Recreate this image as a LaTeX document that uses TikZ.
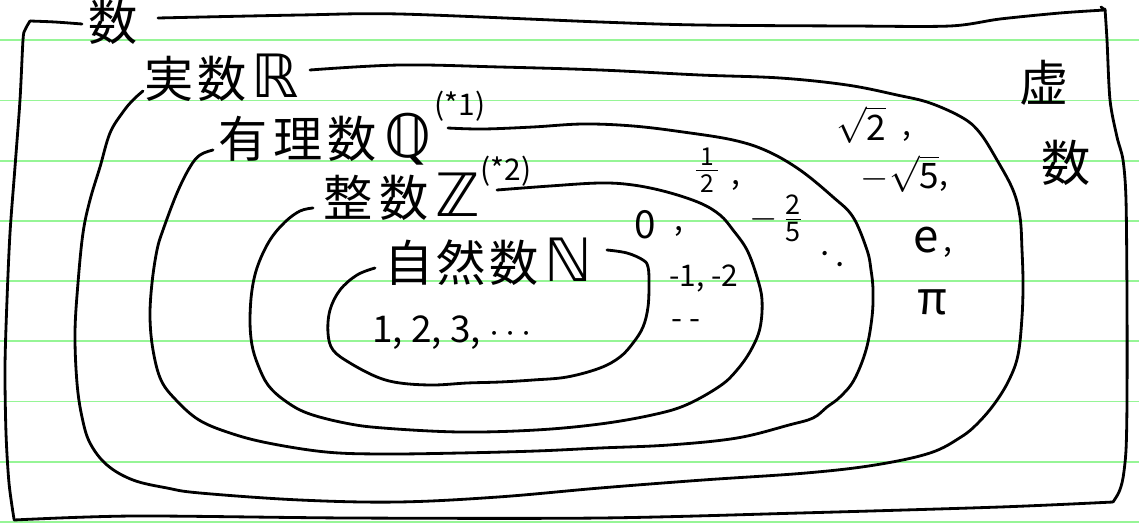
\documentclass[tikz,border=0pt]{standalone}
\usepackage{amsmath}
\usepackage{fontspec}
\setmainfont{Noto Sans CJK JP}
\newfontfamily\dv{DejaVu Sans}
\definecolor{rulegreen}{RGB}{150,245,150}
\newcommand{\bbl}[1]{{\dv\fontsize{34}{34}\selectfont #1}}
\begin{document}
\begin{tikzpicture}[x=0.02cm,y=-0.02cm,
  ink/.style={line width=1.6pt, line cap=round, line join=round},
  rulel/.style={draw=rulegreen, line width=1.1pt},
  biglbl/.style={font=\fontsize{28}{30}\selectfont, inner sep=0pt},
  midlbl/.style={font=\fontsize{21}{24}\selectfont, inner sep=0pt},
  smalllbl/.style={font=\fontsize{18}{20}\selectfont, inner sep=0pt},
  suplbl/.style={font=\fontsize{17}{19}\selectfont, inner sep=0pt}]
\useasboundingbox (0,0) rectangle (1139,524);
\fill[white] (0,0) rectangle (1139,524);
\foreach \k in {0,...,8} \draw[rulel] (0,{40.3+60.2*\k}) -- (1139,{40.3+60.2*\k});

% outer box (numbers)
\draw[ink] plot[smooth] coordinates {(82,24) (55,22) (30,21)};
\draw[ink] plot[smooth] coordinates {(30,21) (25,30) (23,40) (20,100) (15,167) (10,233) (7,300) (5,367) (6,433) (9,483) (14,519)};
\draw[ink] plot[smooth] coordinates {(14,520) (134,516) (350,518) (600,518) (800,513) (1000,507) (1113,502)};
\draw[ink] plot[smooth] coordinates {(1113,502) (1119,492) (1123,478) (1126,450) (1127,400) (1127,300) (1126,200) (1123,160) (1117,137) (1110,100) (1107,40) (1105,9)};
\draw[ink] (1105,10) -- (1101,7);
\draw[ink] plot[smooth] coordinates {(1105,10) (1060,13) (1000,19) (950,26) (850,26) (700,25) (600,22) (400,14) (300,15) (158,18)};

% real numbers
\draw[ink] plot[smooth, tension=0.6] coordinates {(143,91) (133,100) (123,112) (110,133) (100,167) (90,200) (83,233) (78,283) (75,333) (77,383) (82,417) (90,443) (107,465) (133,480) (167,488) (200,493) (300,500) (398,502) (498,497) (600,488) (703,480) (806,473) (875,465) (930,453) (961,437) (978,423) (995,403) (1009,380) (1018,355) (1022,317) (1023,283) (1022,250) (1020,217) (1013,190) (997,160) (980,133) (963,118) (930,103) (897,95) (847,85) (780,78) (700,75) (600,70) (500,67) (400,65) (310,70)};

% rational numbers
\draw[ink] plot[smooth, tension=0.6] coordinates {(213,150) (200,155) (190,167) (177,193) (163,230) (157,250) (152,283) (150,317) (153,350) (161,380) (176,400) (199,420) (230,433) (268,443) (326,452) (383,454) (460,453) (536,451) (600,448) (669,445) (737,438) (789,425) (813,418) (827,407) (840,397) (854,380) (866,350) (872,317) (873,290) (871,270) (867,250) (853,217) (833,197) (800,170) (767,151) (733,140) (683,132) (633,126) (583,124) (533,127) (483,129) (448,128)};

% integers
\draw[ink] plot[smooth, tension=0.6] coordinates {(313,208) (300,211) (285,222) (270,240) (258,265) (252,290) (250,320) (252,345) (258,365) (268,385) (284,400) (307,413) (345,423) (383,428) (460,432) (536,430) (600,424) (652,415) (686,405) (720,386) (737,370) (751,350) (760,328) (762,300) (757,277) (747,250) (733,230) (720,215) (700,203) (667,192) (633,185) (600,183) (550,186) (497,190)};

% natural numbers
\draw[ink] plot[smooth, tension=0.6] coordinates {(375,268) (357,275) (340,290) (330,310) (328,333) (333,350) (350,363) (377,377) (400,383) (433,385) (467,383) (500,382) (533,380) (567,377) (600,368) (620,357) (633,343) (643,327) (648,307) (649,283) (648,267) (643,260) (627,253) (607,250)};

% labels
\node[biglbl] (lsu) at (113,22) {数};
\node[biglbl] (lre) at (222,78) {実\hspace{2pt}数\hspace{3pt}\bbl{ℝ}};
\node[biglbl] (lra) at (325,139) {有\hspace{3pt}理\hspace{3pt}数\hspace{4pt}\bbl{ℚ}};
\node[suplbl] (n1) at (460,106) {(*1)};
\node[biglbl] (lin) at (402,197) {整\hspace{4pt}数\hspace{4pt}\bbl{ℤ}};
\node[suplbl] (n2) at (506,171) {(*2)};
\node[biglbl] (lna) at (488,262) {自\hspace{2pt}然\hspace{2pt}数\hspace{3pt}\bbl{ℕ}};
\node[biglbl] (lim1) at (1044,83) {虚};
\node[biglbl] (lim2) at (1066,163) {数};

% members
\node[midlbl] (nat) at (455,333) {1, 2, 3, $\cdots$};
\node[font=\fontsize{22}{24}\selectfont, inner sep=0pt] (zero) at (645,225) {0};
\node[smalllbl] (zeroc) at (679,232) {,};
\node[font=\fontsize{17}{19}\selectfont, inner sep=0pt] (negs) at (704,278) {-1, -2};
\node[smalllbl] (intdots) at (686,325) {- -};
\node[font=\fontsize{20}{22}\selectfont, inner sep=0pt] (half) at (707,170) {$\frac{\,\text{1}\,}{\,\text{2}\,}$};
\node[smalllbl] (halfc) at (736,186) {,};
\node[font=\fontsize{22}{24}\selectfont, inner sep=0pt] (twofifth) at (776,218) {$-\,\frac{\text{2}}{\text{5}}$};
\node[smalllbl, rotate=-35] (ratdots) at (833,259) {. .};
\node[font=\fontsize{20}{22}\selectfont, inner sep=0pt] (sq2) at (861,125) {$\sqrt{\text{2}}$};
\node[smalllbl] (sq2c) at (907,137) {,};
\node[font=\fontsize{20}{22}\selectfont, inner sep=0pt] (sq5) at (900,174) {$-\sqrt{\text{5}}$};
\node[smalllbl] (sq5c) at (944,187) {,};
\node[font=\fontsize{26}{28}\selectfont, inner sep=0pt] (ee) at (926,240) {e};
\node[smalllbl] (eec) at (948,253) {,};
\node[font=\fontsize{26}{28}\selectfont, inner sep=0pt] (pi) at (932,302) {π};
\end{tikzpicture}
\end{document}
